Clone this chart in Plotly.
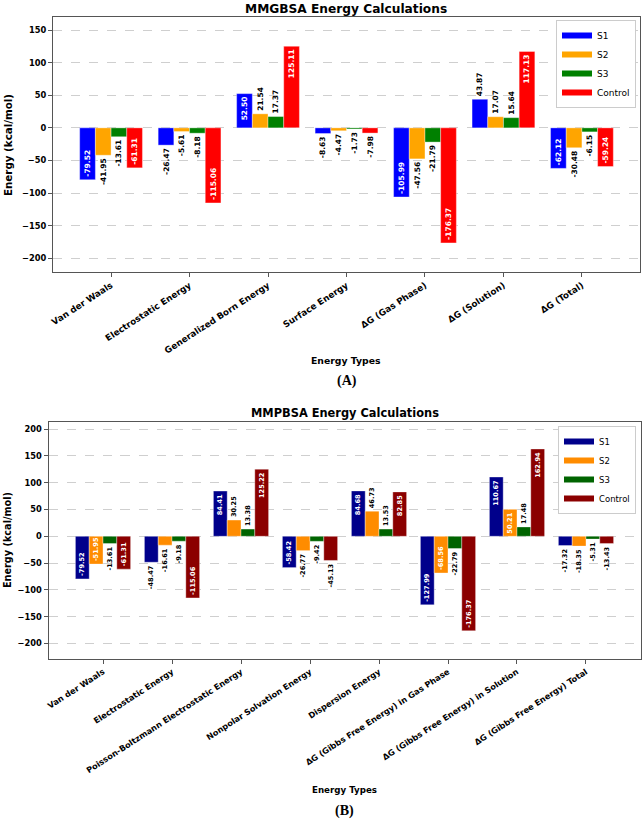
import plotly.graph_objects as go

series_names = ["S1", "S2", "S3", "Control"]

# ---------- (A) MMGBSA ----------
gb_categories = ["Van der Waals", "Electrostatic Energy", "Generalized Born Energy",
                 "Surface Energy", "ΔG (Gas Phase)", "ΔG (Solution)", "ΔG (Total)"]
gb_s1 = [-79.52, -26.47, 52.50, -8.63, -105.99, 43.87, -62.12]
gb_s2 = [-41.95, -5.61, 21.54, -4.47, -47.56, 17.07, -30.48]
gb_s3 = [-13.61, -8.18, 17.37, -1.73, -21.79, 15.64, -6.15]
gb_control = [-61.31, -115.06, 125.11, -7.98, -176.37, 117.13, -59.24]
gb_colors = ["#0000FF", "#FFA500", "#008000", "#FF0000"]

# ---------- (B) MMPBSA ----------
pb_categories = ["Van der Waals", "Electrostatic Energy", "Poisson-Boltzmann Electrostatic Energy",
                 "Nonpolar Solvation Energy", "Dispersion Energy",
                 "ΔG (Gibbs Free Energy) in Gas Phase", "ΔG (Gibbs Free Energy) in Solution",
                 "ΔG (Gibbs Free Energy) Total"]
pb_s1 = [-79.52, -48.47, 84.41, -58.42, 84.68, -127.99, 110.67, -17.32]
pb_s2 = [-51.95, -16.61, 30.25, -26.77, 46.73, -68.56, 50.21, -18.35]
pb_s3 = [-13.61, -9.18, 13.38, -9.42, 13.53, -22.79, 17.48, -5.31]
pb_control = [-61.31, -115.06, 125.22, -45.13, 82.85, -176.37, 162.94, -13.43]
pb_colors = ["#00008B", "#FF8C00", "#006400", "#8B0000"]

W, H = 644, 822
FONT = "DejaVu Sans"


def px_x(p):
    return p / W


def px_y(p):
    return (H - p) / H


fig = go.Figure()


def add_group(cats, vals_list, colors, xa, ya, legend, lbl_size):
    for name, vals, col in zip(series_names, vals_list, colors):
        fig.add_trace(go.Bar(
            x=cats, y=vals, name=name, showlegend=False,
            marker=dict(color=col, line=dict(color="rgba(255,255,255,0.6)", width=0.6)),
            xaxis=xa, yaxis=ya,
            text=[f"{v:.2f}" for v in vals],
            textposition=["inside" if abs(v) > 50 else "outside" for v in vals],
            insidetextanchor="end", textangle=-90, constraintext="none", cliponaxis=False,
            insidetextfont=dict(color="white", size=lbl_size, family=FONT, weight="bold"),
            outsidetextfont=dict(color="black", size=lbl_size, family=FONT, weight="bold"),
        ))
        # legend entry drawn as a thick short line (patch-like swatch), no data plotted
        fig.add_trace(go.Scatter(
            x=[None], y=[None], mode="lines", name=name, legend=legend,
            line=dict(color=col, width=6), xaxis=xa, yaxis=ya, hoverinfo="skip",
        ))


add_group(gb_categories, [gb_s1, gb_s2, gb_s3, gb_control], gb_colors, "x", "y", "legend", 7.5)
add_group(pb_categories, [pb_s1, pb_s2, pb_s3, pb_control], pb_colors, "x2", "y2", "legend2", 6.6)

frame = "#555555"
grid = "#cfcfcf"

xcommon = dict(type="category", tickangle=-33, showline=True, mirror=True, linecolor=frame, linewidth=1,
               ticks="outside", ticklen=4, tickcolor=frame, showgrid=False, automargin=False)
ycommon = dict(dtick=50, tick0=0, showline=True, mirror=True, linecolor=frame, linewidth=1,
               ticks="outside", ticklen=4, tickcolor=frame, showgrid=True, gridcolor=grid,
               griddash="dash", gridwidth=0.8, zeroline=False, automargin=False,
               tickfont=dict(family=FONT, size=8.3, color="black", weight="bold"))

fig.update_layout(
    width=W, height=H, margin=dict(l=0, r=0, t=0, b=0),
    paper_bgcolor="white", plot_bgcolor="white",
    barmode="group", bargap=0.2, bargroupgap=0,
    font=dict(family=FONT, color="black"),
    xaxis=dict(xcommon, domain=[px_x(53), px_x(640)], anchor="y", range=[-0.74, 6.74],
               tickfont=dict(family=FONT, size=8.8, color="black", weight="bold")),
    yaxis=dict(ycommon, domain=[px_y(272), px_y(17)], anchor="x", range=[-221, 170]),
    xaxis2=dict(xcommon, domain=[px_x(48.5), px_x(640.5)], anchor="y2", range=[-0.79, 7.79],
                tickfont=dict(family=FONT, size=8.2, color="black", weight="bold")),
    yaxis2=dict(ycommon, domain=[px_y(659), px_y(421.7)], anchor="x2", range=[-229, 213.8]),
    legend=dict(x=px_x(636), xanchor="right", y=px_y(20), yanchor="top", bgcolor="white",
                bordercolor="#cccccc", borderwidth=1, font=dict(family=FONT, size=9),
                tracegroupgap=0, itemwidth=30),
    legend2=dict(x=px_x(636), xanchor="right", y=px_y(426), yanchor="top", bgcolor="white",
                 bordercolor="#cccccc", borderwidth=1, font=dict(family=FONT, size=8.5),
                 tracegroupgap=0, itemwidth=30),
)

ann = []


def text_ann(txt, x, y, size, angle=0, family=FONT, weight="bold"):
    ann.append(dict(text=txt, x=px_x(x), y=px_y(y), xref="paper", yref="paper", showarrow=False,
                    xanchor="center", yanchor="middle", textangle=angle,
                    font=dict(family=family, size=size, color="black", weight=weight)))


text_ann("MMGBSA Energy Calculations", 346.5, 8.5, 12.2)
text_ann("Energy (kcal/mol)", 8, 145, 10.3, angle=-90)
text_ann("Energy Types", 346.5, 361, 9.3)
text_ann("(A)", 347, 381, 14, family="Liberation Serif")

text_ann("MMPBSA Energy Calculations", 344.5, 413, 11.4)
text_ann("Energy (kcal/mol)", 7, 540, 9.7, angle=-90)
text_ann("Energy Types", 344.5, 790, 8.7)
text_ann("(B)", 344.5, 811, 14, family="Liberation Serif")

fig.update_layout(annotations=ann)

fig.write_html("out.html")
